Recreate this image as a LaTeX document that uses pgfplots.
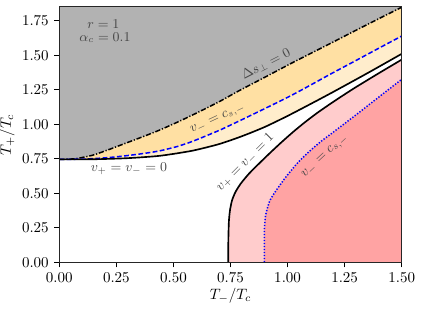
\documentclass[border=0pt]{standalone}
\usepackage{pgfplots}
\pgfplotsset{compat=1.18}
\usepackage{pgfplotstable}

\definecolor{grayreg}{RGB}{178,178,178}
\definecolor{orangeA}{RGB}{255,237,204}
\definecolor{orangeB}{RGB}{255,224,163}
\definecolor{pinkA}{RGB}{255,204,204}
\definecolor{pinkB}{RGB}{255,163,163}
\definecolor{lbl}{RGB}{70,70,70}

% Delta s_perp = 0 (dash-dot)
\pgfplotstableread{
x y
0 0.745
0.07 0.750
0.145 0.775
0.22 0.818
0.29 0.862
0.37 0.912
0.44 0.958
0.52 1.017
0.6 1.080
0.7 1.163
0.79 1.245
0.9 1.340
1.01 1.436
1.1 1.512
1.2 1.596
1.3 1.681
1.4 1.765
1.5 1.848
}\tabD

% v_- = c_{s,-} (blue dashed)
\pgfplotstableread{
x y
0 0.745
0.1 0.747
0.2 0.756
0.29 0.771
0.37 0.788
0.44 0.807
0.52 0.840
0.587 0.878
0.7 0.955
0.79 1.025
0.9 1.113
1.01 1.203
1.1 1.283
1.19 1.365
1.3 1.462
1.4 1.551
1.5 1.639
}\tabB

% v_+ = v_- = 0 (black solid, upper)
\pgfplotstableread{
x y
0 0.745
0.15 0.746
0.3 0.754
0.44 0.771
0.58 0.807
0.7 0.856
0.8 0.913
0.9 0.980
1.0 1.060
1.1 1.146
1.2 1.234
1.35 1.370
1.5 1.510
}\tabS

% v_+ = v_- = 1 (black solid, lower)
\pgfplotstableread{
x y
0.740 0
0.740 0.1
0.741 0.2
0.743 0.3
0.748 0.38
0.757 0.45
0.772 0.51
0.795 0.57
0.83 0.64
0.875 0.715
0.925 0.795
0.975 0.872
1.025 0.945
1.075 1.013
1.13 1.082
1.2 1.162
1.29 1.259
1.4 1.370
1.5 1.468
}\tabP

% v_- = c_{s,-} (blue dotted, lower)
\pgfplotstableread{
x y
0.898 0
0.898 0.2
0.900 0.28
0.905 0.35
0.922 0.445
0.95 0.52
0.99 0.612
1.047 0.725
1.1 0.81
1.15 0.88
1.2 0.942
1.3 1.068
1.4 1.197
1.5 1.325
}\tabQ

\begin{document}
\begin{tikzpicture}
\useasboundingbox (-39.5pt,-31pt) rectangle (241.5pt,174.6pt);
\begin{axis}[
  scale only axis, width=228pt, height=170pt,
  xmin=0, xmax=1.5, ymin=0, ymax=1.85,
  xtick={0,0.25,0.5,0.75,1,1.25,1.5},
  ytick={0,0.25,0.5,0.75,1,1.25,1.5,1.75},
  xtick pos=bottom, ytick pos=left,
  tick align=outside,
  major tick length=3.5pt,
  tick style={black, line width=0.6pt},
  axis line style={black!85, line width=0.6pt},
  axis on top,
  xticklabel style={/pgf/number format/.cd, fixed, fixed zerofill, precision=2},
  yticklabel style={/pgf/number format/.cd, fixed, fixed zerofill, precision=2},
  xlabel={$T_-/T_c$}, ylabel={$T_+/T_c$},
  xlabel style={yshift=3pt},
  ylabel style={yshift=-2pt},
]
% fills
\addplot[draw=none, fill=orangeA, smooth, tension=0.4] table {\tabS} -- (axis cs:1.5,1.85) -- (axis cs:0,1.85) -- cycle;
\addplot[draw=none, fill=orangeB, smooth, tension=0.4] table {\tabB} -- (axis cs:1.5,1.85) -- (axis cs:0,1.85) -- cycle;
\addplot[draw=none, fill=grayreg, smooth, tension=0.4] table {\tabD} -- (axis cs:1.5,1.85) -- (axis cs:0,1.85) -- cycle;
\addplot[draw=none, fill=pinkA, smooth, tension=0.4] table {\tabP} \closedcycle;
\addplot[draw=none, fill=pinkB, smooth, tension=0.4] table {\tabQ} \closedcycle;
% curves
\addplot[black, line width=1pt, smooth, tension=0.4, dash pattern=on 3.5pt off 1.2pt on 0.8pt off 1.2pt] table {\tabD};
\addplot[blue, line width=1pt, smooth, tension=0.4, dash pattern=on 3.2pt off 1.6pt] table {\tabB};
\addplot[black, line width=1.1pt, smooth, tension=0.4] table {\tabS};
\addplot[black, line width=1.1pt, smooth, tension=0.4] table {\tabP};
\addplot[blue, line width=1pt, smooth, tension=0.4, dash pattern=on 0.9pt off 1.1pt] table {\tabQ};
% labels
\node[font=\small, text=lbl] at (axis cs:0.193,1.726) {$r = 1$};
\node[font=\small, text=lbl] at (axis cs:0.2,1.627) {$\alpha_c = 0.1$};
\node[font=\small, text=lbl] at (axis cs:0.305,0.678) {$v_+ = v_- = 0$};
\node[font=\small, text=lbl, rotate=27] at (axis cs:0.905,1.435) {$\Delta s_\perp = 0$};
\node[font=\small, text=lbl, rotate=25] at (axis cs:0.695,1.035) {$v_- = c_{s,-}$};
\node[font=\small, text=lbl, rotate=45] at (axis cs:0.815,0.722) {$v_+ = v_- = 1$};
\node[font=\small, text=lbl, rotate=43] at (axis cs:1.165,0.765) {$v_- = c_{s,-}$};
\end{axis}
\end{tikzpicture}
\end{document}
